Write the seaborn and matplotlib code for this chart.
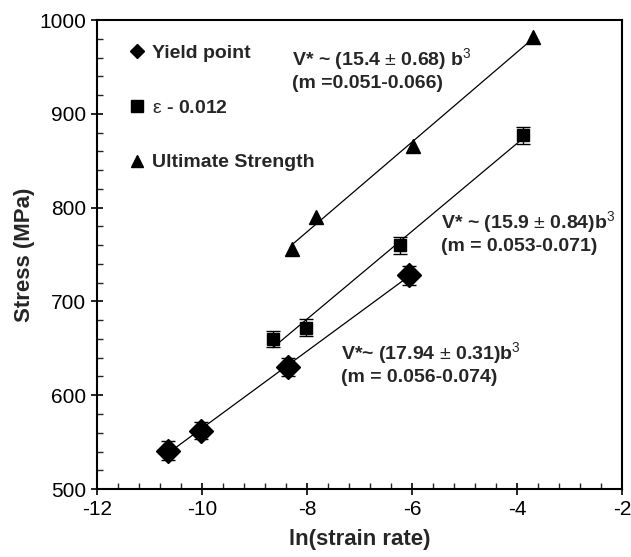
import numpy as np
import pandas as pd
import matplotlib
matplotlib.use("Agg")
import matplotlib.pyplot as plt
from matplotlib.lines import Line2D
from matplotlib.ticker import MultipleLocator
import seaborn as sns

# data
yield_x = [-10.65, -10.01, -8.37, -6.06]
yield_y = [541, 562, 630, 728]
yield_err = [10, 9, 10, 10]

eps_x = [-8.65, -8.02, -6.22, -3.89]
eps_y = [660, 672, 760, 877]
eps_err = [9, 9, 9, 9]

uts_x = [-8.29, -7.82, -5.99, -3.69]
uts_y = [756, 790, 866, 982]

labels = ["Yield point", r"$\mathrm{\varepsilon}$ - 0.012", "Ultimate Strength"]
notes = [
    r"V* ~ (15.4 $\pm$ 0.68) b$^3$" + "\n" + "(m =0.051-0.066)",
    r"V* ~ (15.9 $\pm$ 0.84)b$^3$" + "\n" + "(m = 0.053-0.071)",
    r"V*~ (17.94 $\pm$ 0.31)b$^3$" + "\n" + "(m = 0.056-0.074)",
]
note_pos = [(-8.29, 948), (-5.44, 774), (-7.36, 634)]

sns.set_style("ticks")
plt.rcParams['font.family'] = ['Liberation Sans', 'DejaVu Sans']
plt.rcParams['axes.unicode_minus'] = False
plt.rcParams['mathtext.fontset'] = 'custom'
plt.rcParams['mathtext.rm'] = 'Liberation Sans'
plt.rcParams['mathtext.bf'] = 'Liberation Sans:bold'

fig = plt.figure(figsize=(6.31, 5.57), dpi=100)
ax = fig.add_axes([0.1537, 0.122, 0.8320, 0.842])

series = [
    (yield_x, yield_y, yield_err, "D", 12),
    (eps_x, eps_y, eps_err, "s", 9),
    (uts_x, uts_y, None, "^", 10),
]
for xs, ys, err, mk, ms in series:
    df = pd.DataFrame({"x": xs, "y": ys})
    sns.regplot(data=df, x="x", y="y", ax=ax, scatter=False, ci=None,
                truncate=True, line_kws={"color": "black", "lw": 0.9})
    ax.errorbar(xs, ys, yerr=err, fmt=mk, ms=ms, color="black",
                ecolor="black", elinewidth=1, capsize=5, capthick=1, zorder=3)

for txt, (tx, ty) in zip(notes, note_pos):
    ax.text(tx, ty, txt, fontsize=14, fontweight="bold", va="center",
            ha="left", linespacing=1.15)

handles = [
    Line2D([], [], ls="none", marker="D", ms=7, color="black"),
    Line2D([], [], ls="none", marker="s", ms=8, color="black"),
    Line2D([], [], ls="none", marker="^", ms=9, color="black"),
]
leg = ax.legend(handles, labels, loc="upper left", bbox_to_anchor=(0.028, 0.985),
                frameon=False, prop={"weight": "bold", "size": 14},
                labelspacing=1.9, handlelength=0.8, handletextpad=0.35)

ax.set_xlim(-12, -2)
ax.set_ylim(500, 1000)
ax.xaxis.set_major_locator(MultipleLocator(2))
ax.xaxis.set_minor_locator(MultipleLocator(0.4))
ax.yaxis.set_major_locator(MultipleLocator(100))
ax.yaxis.set_minor_locator(MultipleLocator(20))
ax.tick_params(which="major", direction="inout", length=8, width=1.2,
               labelsize=15, colors="black", pad=4)
ax.tick_params(which="minor", direction="in", length=4, width=1)
ax.set_xlabel("ln(strain rate)", fontsize=16, fontweight="bold", labelpad=7)
ax.set_ylabel("Stress (MPa)", fontsize=16, fontweight="bold", labelpad=3)
for s in ax.spines.values():
    s.set_visible(True)
    s.set_linewidth(1.5)
    s.set_color("black")

fig.savefig("out.png", dpi=100)
